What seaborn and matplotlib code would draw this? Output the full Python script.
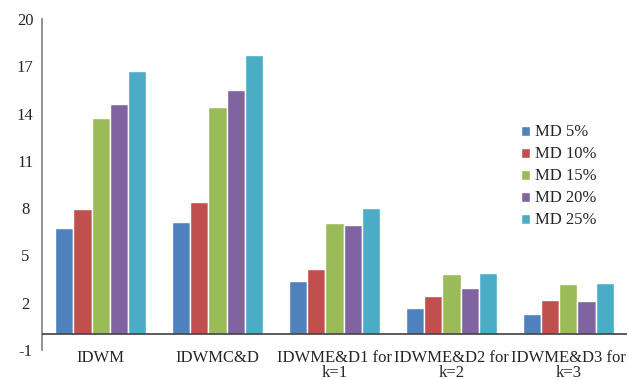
import matplotlib
matplotlib.use("Agg")
import matplotlib.pyplot as plt
import seaborn as sns
import pandas as pd

methods = ["IDWM", "IDWMC&D", "IDWME&D1 for\nk=1", "IDWME&D2 for\nk=2", "IDWME&D3 for\nk=3"]
series = ["MD 5%", "MD 10%", "MD 15%", "MD 20%", "MD 25%"]
md5 = [6.73, 7.14, 3.35, 1.64, 1.31]
md10 = [7.96, 8.38, 4.16, 2.42, 2.15]
md15 = [13.69, 14.43, 7.08, 3.82, 3.21]
md20 = [14.58, 15.47, 6.91, 2.91, 2.09]
md25 = [16.67, 17.69, 8.00, 3.88, 3.25]
yticks = [-1, 2, 5, 8, 11, 14, 17, 20]
colors = ["#4F81BD", "#C0504D", "#9BBB59", "#8064A2", "#4BACC6"]

rows = []
for name, vals in zip(series, [md5, md10, md15, md20, md25]):
    for m, v in zip(methods, vals):
        rows.append({"method": m, "value": v, "md": name})
df = pd.DataFrame(rows)

sns.set_style("white")
plt.rcParams["font.family"] = "serif"
plt.rcParams["font.serif"] = ["Liberation Serif", "DejaVu Serif"]
plt.rcParams["font.size"] = 12

fig = plt.figure(figsize=(6.29, 3.80), dpi=100)
ax = fig.add_axes([0.0668, 0.079, 0.93, 0.871])

sns.barplot(data=df, x="method", y="value", hue="md", order=methods,
            hue_order=series, palette=colors, width=0.77, edgecolor="white",
            linewidth=1.0, saturation=1, ax=ax)

ax.set_ylim(-1, 20)
ax.set_xlim(-0.5, 4.5)
ax.set_yticks(yticks)
ax.set_yticklabels([str(t) for t in yticks])
ax.set_xlabel("")
ax.set_ylabel("")
ax.axhline(0, color="#404040", lw=1.2, zorder=5)

for s in ["top", "right", "bottom"]:
    ax.spines[s].set_visible(False)
ax.spines["left"].set_color("#808080")
ax.spines["left"].set_linewidth(1.2)
ax.tick_params(axis="y", direction="in", length=4, width=1, color="#808080",
               labelsize=12, pad=12)
for lbl in ax.get_yticklabels():
    lbl.set_horizontalalignment("center")
ax.tick_params(axis="x", length=0, labelsize=12, pad=0)
for lbl in ax.get_xticklabels():
    lbl.set_linespacing(0.9)

handles, labels = ax.get_legend_handles_labels()
ax.legend(handles, labels, loc="upper left", bbox_to_anchor=(0.817, 0.69),
          bbox_transform=fig.transFigure, frameon=False, fontsize=12,
          handlelength=0.55, handleheight=0.55, handletextpad=0.3,
          labelspacing=0.36, borderaxespad=0)

fig.savefig("out.png", dpi=100)
